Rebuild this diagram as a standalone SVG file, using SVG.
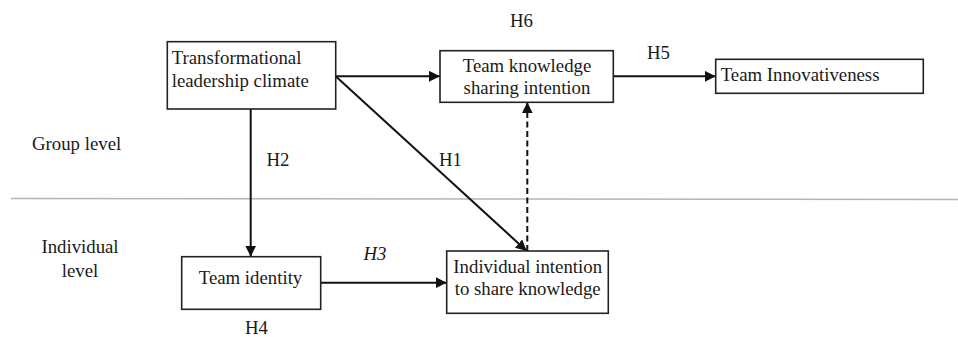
<svg xmlns="http://www.w3.org/2000/svg" width="958" height="337" viewBox="0 0 958 337">
<defs>
<style>
.box{fill:#fff;stroke:#222;stroke-width:1.6}
.t{font-family:"Liberation Serif","Times New Roman",serif;font-size:18.8px;fill:#1a1a1a}
.c{text-anchor:middle}
.edge{stroke:#111;stroke-width:2;fill:none}
.dash{stroke-dasharray:6,3.5}
.sep{stroke:#b4b4b4;stroke-width:1.6}
</style>
<marker id="arr" viewBox="0 0 10 10" refX="10" refY="5" markerWidth="11" markerHeight="11" markerUnits="userSpaceOnUse" orient="auto">
<path d="M0,0 L10,5 L0,10 z" fill="#111"/>
</marker>
</defs>
<rect width="958" height="337" fill="#fff"/>
<line class="sep" x1="11" y1="198.5" x2="958" y2="199.5"/>
<text class="t" x="32" y="149.5">Group level</text>
<text class="t c" x="80" y="253">Individual</text>
<text class="t c" x="80" y="276.5">level</text>
<g id="connectors">
<line class="edge" x1="335.7" y1="76.3" x2="440" y2="76.3" marker-end="url(#arr)"/>
<line class="edge" x1="613.3" y1="76.3" x2="715.7" y2="76.3" marker-end="url(#arr)"/>
<line class="edge" x1="250.7" y1="109" x2="250.7" y2="256.7" marker-end="url(#arr)"/>
<line class="edge" x1="320.7" y1="282.7" x2="446.7" y2="282.7" marker-end="url(#arr)"/>
<line class="edge" x1="335.7" y1="76.3" x2="526.7" y2="251" marker-end="url(#arr)"/>
<line class="edge dash" x1="527.3" y1="251" x2="527.3" y2="102.3" marker-end="url(#arr)"/>
<text class="t" x="510" y="27">H6</text>
<text class="t" x="647" y="59">H5</text>
<text class="t" x="266.5" y="166">H2</text>
<text class="t" x="439" y="166">H1</text>
<text class="t" x="363.5" y="260" font-style="italic">H3</text>
<text class="t" x="245" y="333.5">H4</text>
</g>
<g id="transformational">
<rect class="box" x="167.3" y="41.7" width="168.4" height="67.3"/>
<text class="t" x="171.7" y="64.3">Transformational</text>
<text class="t" x="171.7" y="86.7">leadership climate</text>
</g>
<g id="team-knowledge">
<rect class="box" x="440" y="50.7" width="173.3" height="51.6"/>
<text class="t c" x="527" y="72.3">Team knowledge</text>
<text class="t c" x="527" y="94">sharing intention</text>
</g>
<g id="team-innovativeness">
<rect class="box" x="715.7" y="59.3" width="207.6" height="34"/>
<text class="t" x="720.7" y="80.5">Team Innovativeness</text>
</g>
<g id="team-identity">
<rect class="box" x="181.7" y="256.7" width="139" height="52.6"/>
<text class="t c" x="250.5" y="284">Team identity</text>
</g>
<g id="individual-intention">
<rect class="box" x="446.7" y="251" width="161.6" height="62.3"/>
<text class="t c" x="527.7" y="272.7">Individual intention</text>
<text class="t c" x="527.7" y="294.5">to share knowledge</text>
</g>
</svg>
